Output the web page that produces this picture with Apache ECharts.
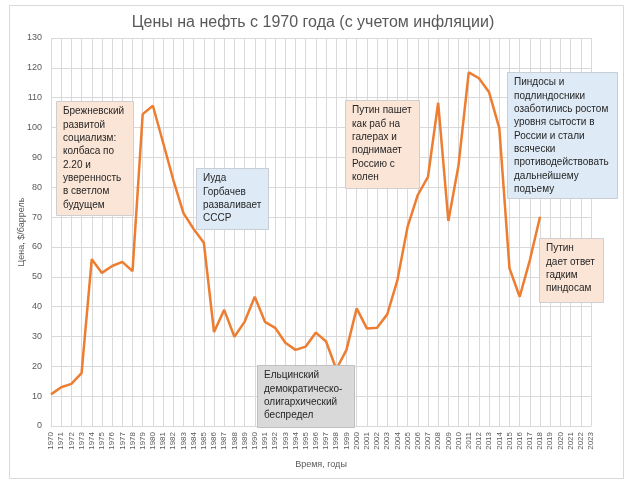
<!DOCTYPE html>
<html><head><meta charset="utf-8">
<script src="https://cdn.jsdelivr.net/npm/echarts@6/dist/echarts.min.js"></script>
<style>html,body{margin:0;padding:0;background:#fff}#c{width:626px;height:480px}</style>
</head><body><div id="c"></div>
<script>
const years = [];
for (let y = 1970; y <= 2023; y++) years.push(String(y));
const prices = [
  10.6, 13.0, 14.1, 17.7, 55.9, 51.3, 53.6, 55.0, 51.9, 104.5,
  107.3, 95.0, 82.5, 71.3, 66.0, 61.4, 31.5, 38.9, 29.9, 34.9,
  43.3, 34.9, 32.9, 27.9, 25.5, 26.6, 31.3, 28.3, 19.0, 25.5,
  39.4, 32.7, 32.9, 37.4, 48.9, 66.8, 77.4, 83.5, 108.3, 68.7,
  87.4, 118.5, 116.5, 111.8, 99.8, 52.8, 43.3, 55.6, 70.1
];
const yTicks = {min: 0, max: 130, step: 10};
const notes = [
  {text: 'Брежневский\nразвитой\nсоциализм:\nколбаса по\n2.20 и\nуверенность\nв светлом\nбудущем', kind: 'peach'},
  {text: 'Иуда\nГорбачев\nразваливает\nСССР', kind: 'blue'},
  {text: 'Ельцинский\nдемократическо-\nолигархический\nбеспредел', kind: 'gray'},
  {text: 'Путин пашет\nкак раб на\nгалерах и\nподнимает\nРоссию с\nколен', kind: 'peach'},
  {text: 'Пиндосы и\nподлиндосники\nозаботились ростом\nуровня сытости в\nРоссии и стали\nвсячески\nпротиводействовать\nдальнейшему\nподъему', kind: 'blue'},
  {text: 'Путин\nдает ответ\nгадким\nпиндосам', kind: 'peach'}
];
const boxes = [
  [56, 101, 77, 114],
  [196, 168, 72, 61],
  [257, 365, 97, 62],
  [345, 100, 74, 88],
  [507, 72, 110, 126],
  [539, 238, 64, 64]
];
const fills = {peach: '#FBE5D6', blue: '#DEEBF7', gray: '#D9D9D9'};
const strokes = {peach: '#D0CECE', blue: '#C8CED6', gray: '#BFBFBF'};

const FONT = '"Liberation Sans", Arial, sans-serif';
const graphics = [
  {type: 'rect', shape: {x: 9.5, y: 5.5, width: 614, height: 473}, style: {fill: 'none', stroke: '#D9D9D9', lineWidth: 1}, z: 0, silent: true}
];
notes.forEach((n, i) => {
  const b = boxes[i];
  graphics.push({type: 'rect', shape: {x: b[0] + 0.5, y: b[1] + 0.5, width: b[2], height: b[3]},
    style: {fill: fills[n.kind], stroke: strokes[n.kind], lineWidth: 1}, z: 10});
  graphics.push({type: 'text', x: b[0] + 7, y: b[1] + 4, z: 11,
    style: {text: n.text, font: '10px ' + FONT, fill: '#262626', lineHeight: 13.3, verticalAlign: 'top'}});
});

const chart = echarts.init(document.getElementById('c'), null, {renderer: 'canvas'});
chart.setOption({
  animation: false,
  textStyle: {fontFamily: FONT},
  title: {text: 'Цены на нефть с 1970 года (с учетом инфляции)', left: 'center', top: 10,
    textStyle: {fontSize: 16, fontWeight: 'normal', color: '#595959', fontFamily: FONT}},
  grid: {left: 51, right: 35, top: 38, bottom: 54, containLabel: false},
  xAxis: {
    type: 'category', data: years, boundaryGap: false,
    name: 'Время, годы', nameLocation: 'middle', nameGap: 34,
    nameTextStyle: {fontSize: 9, color: '#595959'},
    axisLine: {lineStyle: {color: '#D9D9D9'}},
    axisTick: {show: false},
    axisLabel: {rotate: 90, interval: 0, fontSize: 8, color: '#595959', margin: 6},
    splitLine: {show: true, interval: 0, lineStyle: {color: '#D9D9D9', width: 1}}
  },
  yAxis: {
    type: 'value', min: yTicks.min, max: yTicks.max, interval: yTicks.step,
    name: 'Цена, $/баррель', nameLocation: 'middle', nameGap: 25, nameMoveOverlap: false,
    nameTextStyle: {fontSize: 9, color: '#595959'},
    axisLine: {show: false}, axisTick: {show: false},
    axisLabel: {fontSize: 9, color: '#595959', margin: 9},
    splitLine: {lineStyle: {color: '#D9D9D9', width: 1}}
  },
  series: [{
    type: 'line', data: prices, showSymbol: false, symbol: 'none',
    lineStyle: {color: '#ED7D31', width: 2.5}, z: 5
  }],
  graphic: graphics
});
</script></body></html>
